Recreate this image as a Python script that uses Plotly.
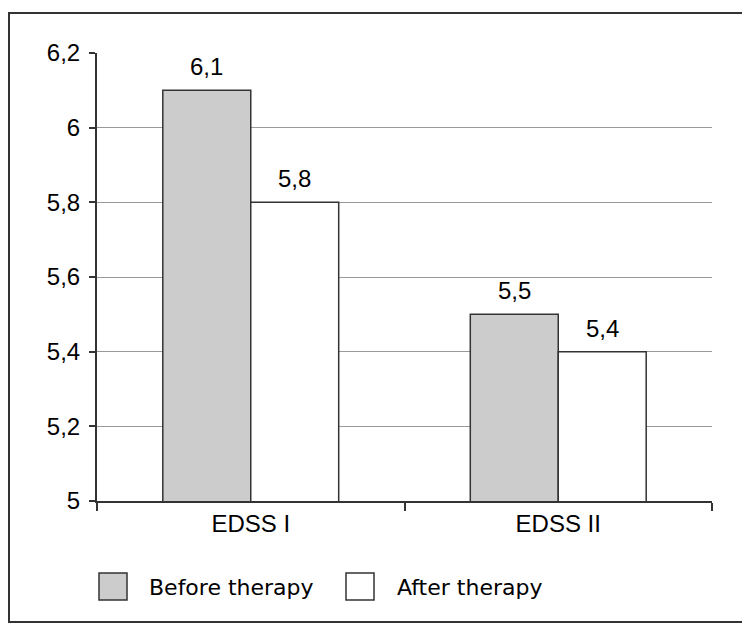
import plotly.graph_objects as go

categories = ["EDSS I", "EDSS II"]
before_therapy = [6.1, 5.5]
after_therapy = [5.8, 5.4]
series_names = ["Before therapy", "After therapy"]
y_ticks = [5, 5.2, 5.4, 5.6, 5.8, 6, 6.2]

W, H = 750, 624
OFF = 8  # default page body margin
L, T = 97 - OFF, 53 - OFF
PW, PH = 615, 448
R, B = W - L - PW, H - T - PH

def px(x):
    return (x - OFF - L) / PW

def py(y):
    return (T + PH - (y - OFF)) / PH

axis_font = dict(family="Liberation Sans, Arial, sans-serif", size=24, color="#000")
legend_font = dict(family="DejaVu Sans, Verdana, sans-serif", size=22, color="#000")
edge = "#333333"
bargap = 0.428
half_bar_px = PW / len(categories) * (1 - bargap) / 4

fig = go.Figure()
fig.add_trace(go.Bar(
    x=categories, y=before_therapy, name=series_names[0],
    marker=dict(color="#cccccc", line=dict(color=edge, width=1.5)),
))
fig.add_trace(go.Bar(
    x=categories, y=after_therapy, name=series_names[1],
    marker=dict(color="#ffffff", line=dict(color=edge, width=1.5)),
))

for vals, shift in ((before_therapy, -half_bar_px), (after_therapy, half_bar_px)):
    for c, v in zip(categories, vals):
        fig.add_annotation(x=c, y=v, xref="x", yref="y", text=f"{v:.1f}".replace(".", ","),
                           showarrow=False, xshift=shift, yanchor="bottom", yshift=8,
                           font=axis_font)

fig.update_layout(
    width=W, height=H,
    margin=dict(l=L, r=R, t=T, b=B),
    paper_bgcolor="white", plot_bgcolor="white",
    separators=", ",
    barmode="group", bargap=bargap, bargroupgap=0,
    showlegend=False,
    font=axis_font,
)
fig.update_yaxes(
    range=[5, 6.2], tickvals=y_ticks,
    showgrid=True, gridcolor="#999999", gridwidth=1,
    showline=True, linecolor=edge, linewidth=2,
    ticks="outside", ticklen=6, tickwidth=2, tickcolor=edge,
    tickfont=axis_font, zeroline=False, ticklabelstandoff=4,
)
fig.update_xaxes(
    showline=True, linecolor=edge, linewidth=2,
    ticks="outside", ticklen=8, tickwidth=2, tickcolor=edge,
    tickson="boundaries", tickfont=axis_font, showgrid=False,
)

# outer frame
fig.add_shape(type="rect", xref="paper", yref="paper",
              x0=px(9), x1=px(770), y0=py(622), y1=py(13),
              line=dict(color=edge, width=2), fillcolor="rgba(0,0,0,0)", layer="below")

# custom legend
legend_items = [
    (series_names[0], "#cccccc", 99, 147),
    (series_names[1], "#ffffff", 346, 395),
]
for name, color, bx, tx in legend_items:
    fig.add_shape(type="rect", xref="paper", yref="paper",
                  x0=px(bx), x1=px(bx + 28), y0=py(600), y1=py(573),
                  line=dict(color=edge, width=1.5), fillcolor=color)
    fig.add_annotation(text=name, xref="paper", yref="paper",
                       x=px(tx), y=py(587), xanchor="left", yanchor="middle",
                       showarrow=False, font=legend_font)

fig.write_html("out.html")
